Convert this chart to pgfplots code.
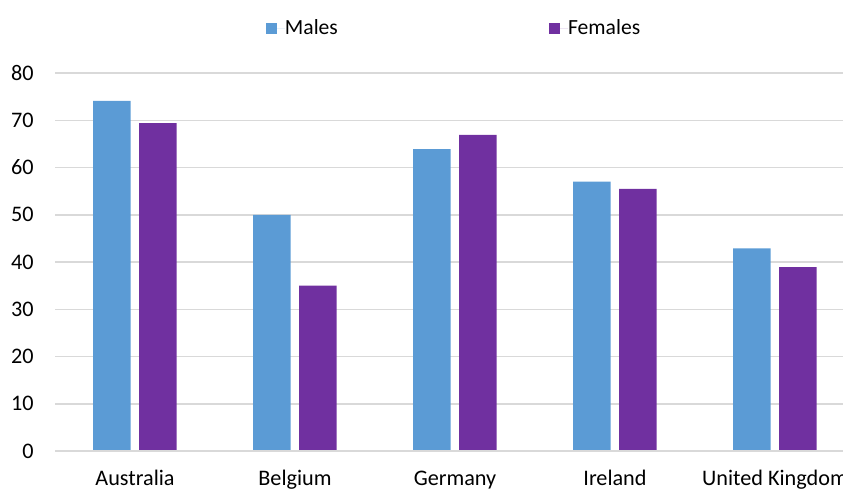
\documentclass[border=0pt]{standalone}
\usepackage{fontspec}
\setmainfont{Carlito}
\usepackage{pgfplots}
\pgfplotsset{compat=1.18}

\definecolor{males}{HTML}{5B9BD5}
\definecolor{females}{HTML}{7030A0}
\definecolor{gridgray}{HTML}{D9D9D9}

\begin{document}
\begin{tikzpicture}
\useasboundingbox (0,0) rectangle (421.5pt,244.5pt);
\clip (0,0) rectangle (421.5pt,244.5pt);
\begin{axis}[
  at={(27.5pt,19pt)}, anchor=south west,
  scale only axis,
  width=400pt, height=189pt,
  xmin=-0.5, xmax=4.5,
  ymin=0, ymax=80,
  ytick={0,10,...,80},
  xtick={0,1,2,3,4},
  xticklabels={Australia,Belgium,Germany,Ireland,United Kingdom},
  axis line style={draw=none},
  major tick length=0pt,
  ymajorgrids,
  grid style={gridgray, line width=0.75pt},
  /pgf/number format/assume math mode=true,
  tick label style={font=\fontsize{11.1}{13}\selectfont, inner sep=0pt},
  yticklabel style={anchor=east, xshift=-10.5pt},
  xticklabel style={anchor=base, yshift=-17pt},
  ybar, bar width=18.75pt,
  legend columns=2,
  legend style={
    at={(0.4975,1.1177)}, anchor=center,
    draw=none, fill=none, inner sep=0pt,
    font=\fontsize{10.8}{13}\selectfont,
    nodes={inner sep=0pt, anchor=west},
    /tikz/every even column/.append style={column sep=105.5pt},
  },
  legend image code/.code={
    \fill[#1] (0pt,-2.8pt) rectangle (5.6pt,2.8pt);
    \path (0pt,0pt) -- (9.6pt,0pt);
  },
]
\addplot+[draw=none, fill=males, bar shift=-11.5pt] coordinates {
  (0,74.1) (1,50.0) (2,63.9) (3,57.0) (4,42.9)
};
\addlegendentry{Males}
\addplot+[draw=none, fill=females, bar shift=11.5pt] coordinates {
  (0,69.4) (1,35.0) (2,66.9) (3,55.5) (4,38.9)
};
\addlegendentry{Females}
\draw[gridgray, line width=0.75pt] (rel axis cs:0,0) -- (rel axis cs:1,0);
\end{axis}
\end{tikzpicture}
\end{document}
